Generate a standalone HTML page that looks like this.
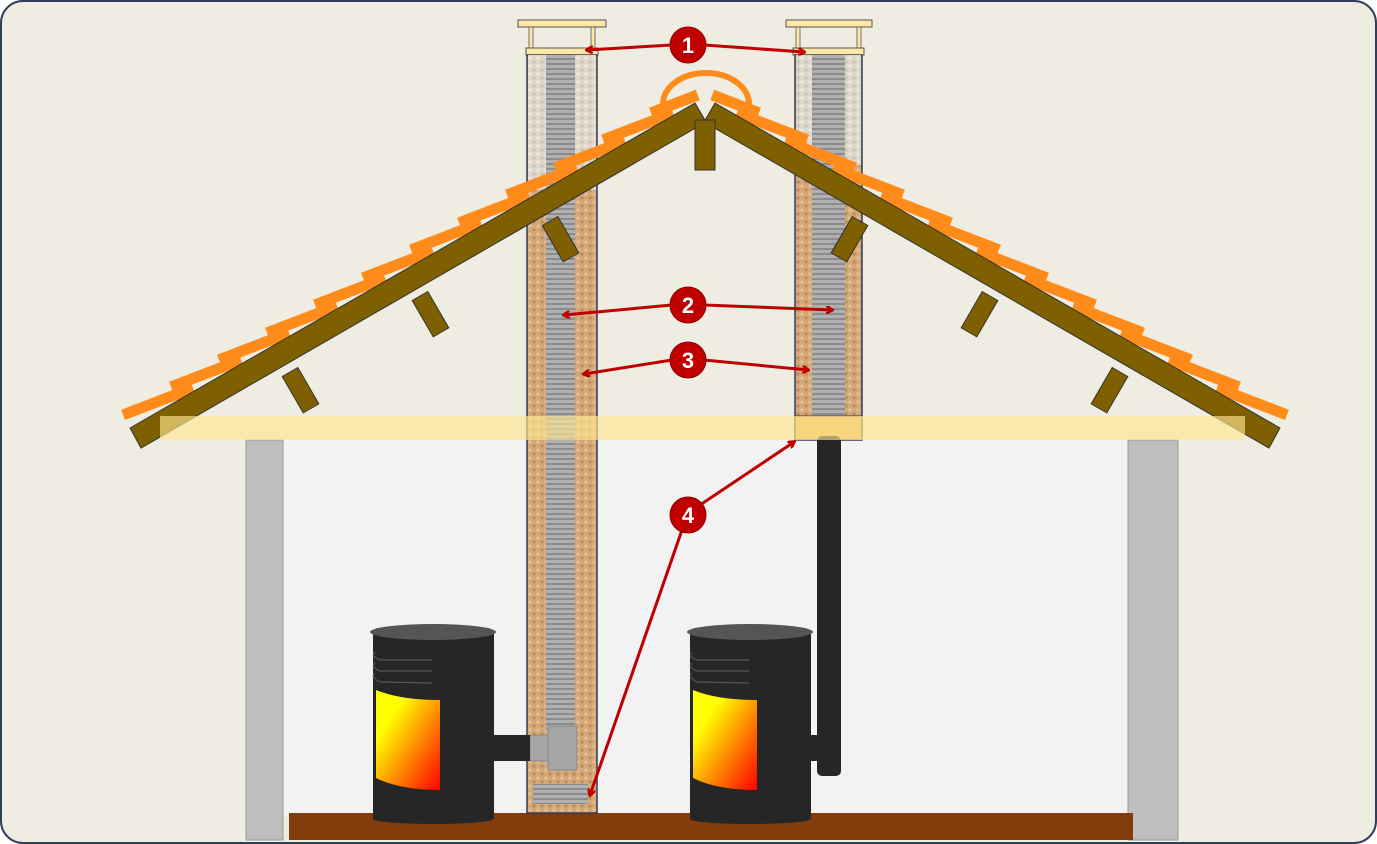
<!DOCTYPE html>
<html><head><meta charset="utf-8"><style>html,body{margin:0;padding:0;background:#fff}svg{display:block}</style></head><body>
<svg width="1377" height="844" viewBox="0 0 1377 844" xmlns="http://www.w3.org/2000/svg" font-family="Liberation Sans, sans-serif">
<defs>
<pattern id="fl" width="10" height="5" patternUnits="userSpaceOnUse"><rect width="10" height="5" fill="#8c8c8c"/><rect width="10" height="3" fill="#b0b0b0"/></pattern>
<pattern id="peb" width="8" height="8" patternUnits="userSpaceOnUse"><rect width="8" height="8" fill="#ddd6c9"/><circle cx="2" cy="2" r="1.6" fill="#ece8e0"/><circle cx="6" cy="6" r="1.6" fill="#c9c1b2"/></pattern>
<pattern id="tan" width="8" height="8" patternUnits="userSpaceOnUse"><rect width="8" height="8" fill="#d6a878"/><circle cx="2" cy="2" r="1.6" fill="#e4bf95"/><circle cx="6" cy="6" r="1.6" fill="#b98a5c"/></pattern>
<linearGradient id="fire" x1="0" y1="0" x2="1" y2="1"><stop offset="0.25" stop-color="#ffff00"/><stop offset="1" stop-color="#ff0000"/></linearGradient>
<marker id="ah" markerWidth="8" markerHeight="8" refX="6" refY="4" orient="auto" markerUnits="userSpaceOnUse"><path d="M0,0 L7,4 L0,8" fill="none" stroke="#c00000" stroke-width="2.5"/></marker>
</defs>
<rect x="1" y="1" width="1375" height="842" rx="22" fill="#efece1" stroke="#2f3e5a" stroke-width="2"/>
<rect x="283" y="440" width="845" height="375" fill="#f2f2f2"/>
<rect x="246" y="440" width="37" height="400" fill="#bfbfbf" stroke="#999" stroke-width="1"/>
<rect x="1128" y="440" width="50" height="400" fill="#bfbfbf" stroke="#999" stroke-width="1"/>
<rect x="289" y="813" width="844" height="27" fill="#843c0c"/>
<rect x="518" y="20" width="88" height="7" fill="#fbe8a6" stroke="#555" stroke-width="1"/>
<rect x="529" y="27" width="4" height="22" fill="#fbe8a6" stroke="#555" stroke-width="0.8"/>
<rect x="591" y="27" width="4" height="22" fill="#fbe8a6" stroke="#555" stroke-width="0.8"/>
<rect x="526" y="48" width="72" height="7" fill="#fbe8a6" stroke="#555" stroke-width="1"/>
<rect x="527" y="55" width="70" height="758" fill="url(#tan)" stroke="#2f3e5a" stroke-width="1.5"/>
<rect x="528" y="55" width="68" height="135" fill="url(#peb)"/>
<rect x="546" y="55" width="29" height="675" fill="url(#fl)"/>
<rect x="548" y="726" width="29" height="44" fill="#a6a6a6" stroke="#888"/>
<rect x="530" y="735" width="18" height="26" fill="#a6a6a6" stroke="#888"/>
<rect x="533" y="784" width="55" height="20" fill="url(#fl)"/>
<rect x="786" y="20" width="86" height="7" fill="#fbe8a6" stroke="#555" stroke-width="1"/>
<rect x="796" y="27" width="4" height="22" fill="#fbe8a6" stroke="#555" stroke-width="0.8"/>
<rect x="857" y="27" width="4" height="22" fill="#fbe8a6" stroke="#555" stroke-width="0.8"/>
<rect x="793" y="48" width="71" height="7" fill="#fbe8a6" stroke="#555" stroke-width="1"/>
<rect x="795" y="55" width="67" height="385" fill="url(#tan)" stroke="#2f3e5a" stroke-width="1.5"/>
<rect x="796" y="55" width="65" height="110" fill="url(#peb)"/>
<rect x="812" y="55" width="33" height="385" fill="url(#fl)"/>
<rect x="795" y="416" width="67" height="24" fill="#e8b45e" stroke="#2f3e5a" stroke-width="1"/>
<rect x="817" y="436" width="24" height="340" rx="5" fill="#262626"/>
<path d="M663,104 A43,31 0 0 1 749,104" fill="none" stroke="#ff8c1a" stroke-width="6"/>
<g id="roofL">
<g fill="#ff8c1a">
<rect x="0" y="-11" width="75" height="11" transform="translate(125,420) rotate(-21)"/>
<rect x="0" y="-11" width="75" height="11" transform="translate(173,392) rotate(-21)"/>
<rect x="0" y="-11" width="75" height="11" transform="translate(221,365) rotate(-21)"/>
<rect x="0" y="-11" width="75" height="11" transform="translate(269,338) rotate(-21)"/>
<rect x="0" y="-11" width="75" height="11" transform="translate(317,310) rotate(-21)"/>
<rect x="0" y="-11" width="75" height="11" transform="translate(365,283) rotate(-21)"/>
<rect x="0" y="-11" width="75" height="11" transform="translate(413,255) rotate(-21)"/>
<rect x="0" y="-11" width="75" height="11" transform="translate(461,228) rotate(-21)"/>
<rect x="0" y="-11" width="75" height="11" transform="translate(509,200) rotate(-21)"/>
<rect x="0" y="-11" width="75" height="11" transform="translate(557,173) rotate(-21)"/>
<rect x="0" y="-11" width="75" height="11" transform="translate(605,145) rotate(-21)"/>
<rect x="0" y="-11" width="50" height="11" transform="translate(653,118) rotate(-21)"/>
</g>
<polygon points="130,428 695,103 706,122 141,448" fill="#7f6000" stroke="#333" stroke-width="1"/>
<g fill="#7f6000" stroke="#333" stroke-width="1">
<rect x="-9" y="0" width="18" height="42" transform="translate(290,372) rotate(-30)"/>
<rect x="-9" y="0" width="18" height="42" transform="translate(420,296) rotate(-30)"/>
<rect x="-9" y="0" width="18" height="42" transform="translate(550,221) rotate(-30)"/>
</g>
</g>
<use href="#roofL" transform="translate(1410,0) scale(-1,1)"/>
<rect x="695" y="120" width="20" height="50" fill="#7f6000" stroke="#333" stroke-width="1"/>
<rect x="160" y="416" width="1085" height="24" fill="#ffe690" opacity="0.65"/>
<g id="stove">
<rect x="373" y="632" width="121" height="187" fill="#262626"/>
<ellipse cx="433" cy="819" rx="60" ry="5" fill="#262626"/>
<ellipse cx="433" cy="632" rx="63" ry="8" fill="#555"/>
<g fill="none" stroke="#555" stroke-width="1.2">
<path d="M375,652 Q370,656 380,660 L432,660"/><path d="M375,663 Q370,667 380,671 L432,671"/><path d="M375,673 Q370,677 380,682 L432,683"/>
</g>
<path d="M376,690 Q400,700 440,700 L440,790 Q400,790 376,778 Z" fill="url(#fire)"/>
</g>
<use href="#stove" transform="translate(317,0)"/>
<rect x="494" y="735" width="36" height="26" fill="#262626"/>
<rect x="811" y="735" width="8" height="26" fill="#262626"/>
<g stroke="#c00000" stroke-width="3" fill="none" marker-end="url(#ah)">
<line x1="672" y1="45" x2="587" y2="50"/><line x1="704" y1="45" x2="804" y2="52"/>
<line x1="672" y1="305" x2="564" y2="315"/><line x1="704" y1="305" x2="832" y2="310"/>
<line x1="672" y1="360" x2="584" y2="374"/><line x1="704" y1="360" x2="808" y2="370"/>
<line x1="700" y1="505" x2="794" y2="442"/><line x1="682" y1="530" x2="590" y2="795"/>
</g>
<g fill="#c00000" stroke="#8a0000" stroke-width="1">
<circle cx="688" cy="45" r="18"/><circle cx="688" cy="305" r="18"/><circle cx="688" cy="360" r="18"/><circle cx="688" cy="515" r="18"/>
</g>
<g fill="#fff" font-size="22" font-weight="bold" text-anchor="middle">
<text x="688" y="53">1</text><text x="688" y="313">2</text><text x="688" y="368">3</text><text x="688" y="523">4</text>
</g>
</svg>
</body></html>
